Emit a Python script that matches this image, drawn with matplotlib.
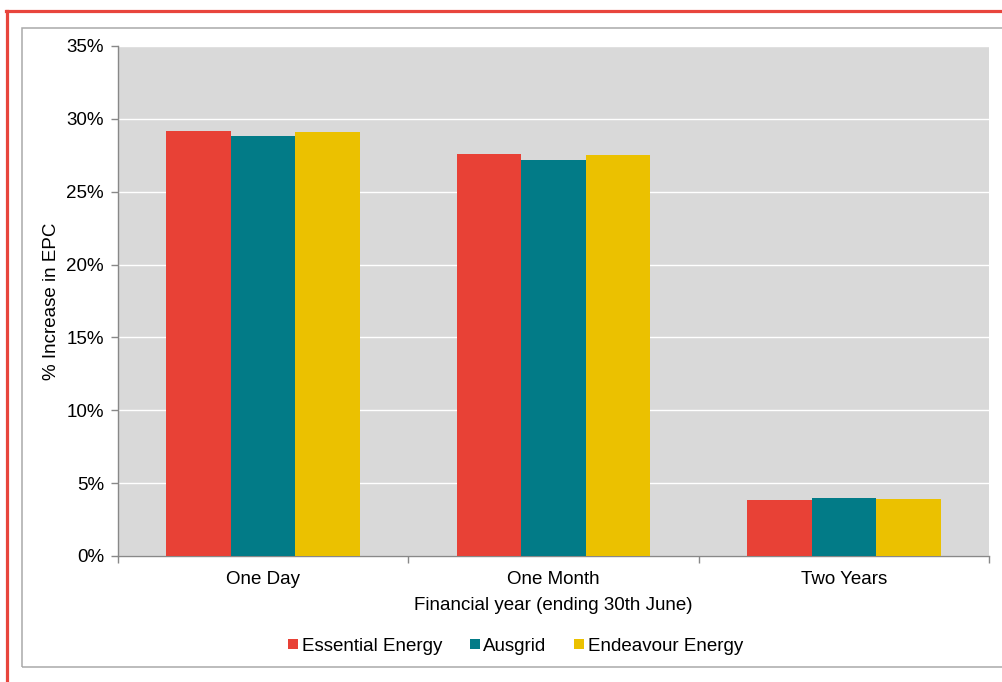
import matplotlib
matplotlib.use('Agg')
import matplotlib.pyplot as plt
from matplotlib.lines import Line2D
from matplotlib.patches import Rectangle
import matplotlib.ticker as ticker
import numpy as np

plt.rcParams['font.family'] = ['Liberation Sans', 'DejaVu Sans']

categories = ['One Day', 'One Month', 'Two Years']
series_names = ['Essential Energy', 'Ausgrid', 'Endeavour Energy']
essential = [29.2, 27.6, 3.85]
ausgrid = [28.8, 27.15, 3.95]
endeavour = [29.1, 27.5, 3.9]
series_colors = ['#e84136', '#027b87', '#ebc100']

W, H = 1003, 682
FS = 13.5
fig = plt.figure(figsize=(W / 100, H / 100), dpi=100)

# outer frame: red rule on top/left, grey box inside
fig.add_artist(Line2D([6 / W, 1], [1 - 10.5 / H, 1 - 10.5 / H], color='#e8453c', lw=2.3,
                      transform=fig.transFigure))
fig.add_artist(Line2D([7 / W, 7 / W], [1 - 10.5 / H, 0], color='#e8453c', lw=2.3,
                      transform=fig.transFigure))
fig.add_artist(Rectangle((22 / W, 1 - 667 / H), 1.0, (667 - 28) / H, fill=False,
                         edgecolor='#aaaaaa', lw=1.1, transform=fig.transFigure))

ax = fig.add_axes([118 / W, 1 - 556 / H, 871 / W, 510 / H])
ax.set_facecolor('#d9d9d9')

x = np.arange(len(categories))
width = 0.222
for i, (vals, name, col) in enumerate(zip([essential, ausgrid, endeavour], series_names, series_colors)):
    ax.bar(x + (i - 1) * width, vals, width, color=col, label=name, zorder=3)

ax.set_xlim(-0.5, 2.5)
ax.set_ylim(0, 35)
ax.yaxis.set_major_locator(ticker.MultipleLocator(5))
ax.yaxis.set_major_formatter(ticker.FuncFormatter(lambda v, p: f'{v:.0f}%'))
ax.grid(axis='y', color='white', lw=1.0, zorder=1)
ax.set_axisbelow(True)

# category separators as major ticks, names on minor ticks
ax.set_xticks([-0.5, 0.5, 1.5, 2.5])
ax.set_xticklabels([])
ax.set_xticks(x, minor=True)
ax.set_xticklabels(categories, minor=True)
ax.tick_params(axis='x', which='major', direction='out', length=5, color='#888888', width=1)
ax.tick_params(axis='x', which='minor', length=0, pad=11, labelsize=FS)
ax.tick_params(axis='y', direction='out', length=5, color='#888888', width=1, pad=5, labelsize=FS)

for s in ['top', 'right']:
    ax.spines[s].set_visible(False)
for s in ['left', 'bottom']:
    ax.spines[s].set_color('#888888')
    ax.spines[s].set_linewidth(1.0)

ax.set_xlabel('Financial year (ending 30th June)', fontsize=FS)
ax.xaxis.set_label_coords(0.5, -0.080)
ax.set_ylabel('% Increase in EPC', fontsize=FS)
ax.yaxis.set_label_coords(-0.067, 0.5)

handles = [Line2D([], [], marker='s', ls='none', markersize=7.5, color=c, markeredgewidth=0)
           for c in series_colors]
fig.legend(handles, series_names, loc='center', bbox_to_anchor=(515.5 / W, 1 - 646 / H),
           ncol=3, frameon=False, fontsize=FS, handlelength=0.55, handletextpad=0.2,
           columnspacing=1.45, borderpad=0)

fig.savefig('out.png', dpi=100)
